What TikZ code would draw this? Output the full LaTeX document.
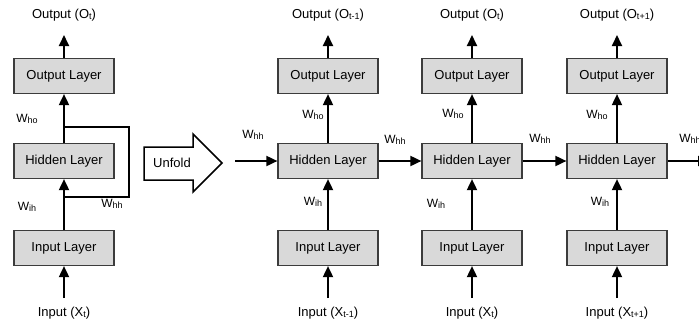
\documentclass[tikz,border=0pt]{standalone}
\usepackage{fontspec}
\setmainfont{Liberation Sans}
\usetikzlibrary{arrows.meta}
\definecolor{layerfill}{RGB}{217,217,217}
\definecolor{layerline}{RGB}{60,60,60}
\newcommand{\lsub}[1]{\raisebox{-1pt}{\fontsize{9}{10}\selectfont #1}}

\begin{document}
\begin{tikzpicture}[x=1pt,y=-1pt,
  layer/.style={shape=rectangle, draw=layerline, fill=layerfill, line width=1.2pt,
    minimum width=100pt, minimum height=35pt, font=\fontsize{13}{15}\selectfont},
  iolabel/.style={font=\fontsize{13}{15}\selectfont},
  wlabel/.style={font=\fontsize{12}{14}\selectfont, inner sep=0pt},
  link/.style={line width=1.8pt, -{Triangle[length=11pt,width=10pt]}},
  wire/.style={line width=1.8pt}]

\useasboundingbox (0,0) rectangle (699,325);

% folded network
\path (64,76)  node (O0) [layer] {Output Layer};
\path (64,161) node (H0) [layer] {Hidden Layer};
\path (64,248) node (I0) [layer] {Input Layer};
\path (64,15)  node (Y0) [iolabel] {Output (O\lsub{t})};
\path (64,313) node (X0) [iolabel] {Input (X\lsub{t})};
\coordinate (y0) at (64,35);
\coordinate (x0) at (64,298);
\coordinate (fbtop) at (129,127);
\coordinate (fbbot) at (129,197);

\draw [link] (x0) to (I0);
\draw [link] (I0) to (H0);
\draw [link] (H0) to (O0);
\draw [link] (O0) to (y0);
\draw [wire] (H0.north |- fbtop) -- (fbtop) -- (fbbot) -- (H0.south |- fbbot);

\path (27,119) node (who0) [wlabel] {W\lsub{ho}};
\path (27,207) node (wih0) [wlabel] {W\lsub{ih}};
\path (112,204) node (whh0) [wlabel] {W\lsub{hh}};

% unfold arrow
\draw [line width=1.5pt] (144,147) -- (193,147) -- (193,134) -- (222,163)
  -- (193,192) -- (193,180) -- (144,180) -- cycle;
\path (172,163) node (unfold) [iolabel] {Unfold};

% unfolded network, step t-1
\path (328,76)  node (O1) [layer] {Output Layer};
\path (328,161) node (H1) [layer] {Hidden Layer};
\path (328,248) node (I1) [layer] {Input Layer};
\path (328,15)  node (Y1) [iolabel] {Output (O\lsub{t-1})};
\path (328,313) node (X1) [iolabel] {Input (X\lsub{t-1})};
\coordinate (y1) at (328,35);
\coordinate (x1) at (328,298);
\coordinate (h0) at (235,161);

% step t
\path (472,76)  node (O2) [layer] {Output Layer};
\path (472,161) node (H2) [layer] {Hidden Layer};
\path (472,248) node (I2) [layer] {Input Layer};
\path (472,15)  node (Y2) [iolabel] {Output (O\lsub{t})};
\path (472,313) node (X2) [iolabel] {Input (X\lsub{t})};
\coordinate (y2) at (472,35);
\coordinate (x2) at (472,298);

% step t+1
\path (617,76)  node (O3) [layer] {Output Layer};
\path (617,161) node (H3) [layer] {Hidden Layer};
\path (617,248) node (I3) [layer] {Input Layer};
\path (617,15)  node (Y3) [iolabel] {Output (O\lsub{t+1})};
\path (617,313) node (X3) [iolabel] {Input (X\lsub{t+1})};
\coordinate (y3) at (617,35);
\coordinate (x3) at (617,298);
\coordinate (h4) at (709,161);

\draw [link] (x1) to (I1);
\draw [link] (I1) to (H1);
\draw [link] (H1) to (O1);
\draw [link] (O1) to (y1);
\draw [link] (x2) to (I2);
\draw [link] (I2) to (H2);
\draw [link] (H2) to (O2);
\draw [link] (O2) to (y2);
\draw [link] (x3) to (I3);
\draw [link] (I3) to (H3);
\draw [link] (H3) to (O3);
\draw [link] (O3) to (y3);

\draw [link] (h0) to (H1);
\draw [link] (H1) to (H2);
\draw [link] (H2) to (H3);
\draw [link] (H3) to (h4);

\path (253,135) node (whh1) [wlabel] {W\lsub{hh}};
\path (313,115) node (who1) [wlabel] {W\lsub{ho}};
\path (313,202) node (wih1) [wlabel] {W\lsub{ih}};
\path (395,140) node (whh2) [wlabel] {W\lsub{hh}};
\path (453,114) node (who2) [wlabel] {W\lsub{ho}};
\path (436,204) node (wih2) [wlabel] {W\lsub{ih}};
\path (540,139) node (whh3) [wlabel] {W\lsub{hh}};
\path (597,115) node (who3) [wlabel] {W\lsub{ho}};
\path (600,202) node (wih3) [wlabel] {W\lsub{ih}};
\path (690,139) node (whh4) [wlabel] {W\lsub{hh}};

\end{tikzpicture}
\end{document}
